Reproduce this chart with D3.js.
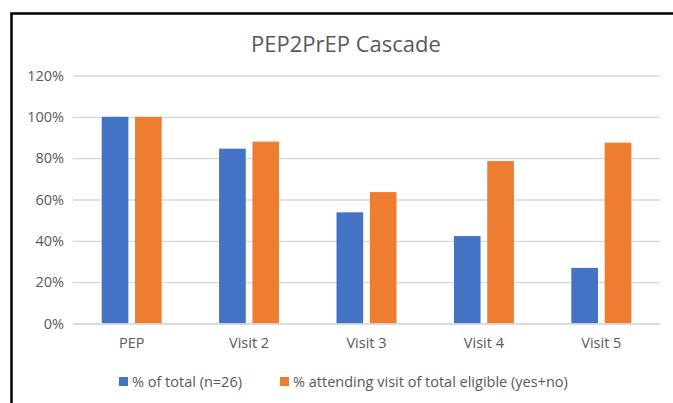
<!DOCTYPE html>
<html>
<head>
<meta charset="utf-8">
<script src="https://cdn.jsdelivr.net/npm/d3@7"></script>
<style>
  body { margin: 0; background: #fff; }
  text { font-family: "Open Sans", "Liberation Sans", sans-serif; fill: #595959; }
</style>
</head>
<body>
<div id="viz"></div>
<script>
// PEP2PrEP cascade values (fractions)

const categories = ["PEP", "Visit 2", "Visit 3", "Visit 4", "Visit 5"];
const seriesNames = ["% of total (n=26)", "% attending visit of total eligible (yes+no)"];
const pctOfTotal = [1.0, 0.846, 0.538, 0.423, 0.269];
const pctAttending = [1.0, 0.88, 0.636, 0.786, 0.875];
const yTicks = [0, 0.2, 0.4, 0.6, 0.8, 1.0, 1.2];
const colors = ["#4472C4", "#ED7D31"];

function drawChart() {
    var dimensions = {
        width: 673,
        height: 403,
        margins: { top: 75.5, right: 13, bottom: 79.5, left: 73 }
    };
    dimensions.boundedWidth = dimensions.width - dimensions.margins.left - dimensions.margins.right;
    dimensions.boundedHeight = dimensions.height - dimensions.margins.top - dimensions.margins.bottom;

    const viz = d3.select('#viz').append('svg')
        .attr('width', dimensions.width)
        .attr('height', dimensions.height);

    // chart frame (cropped on the right and bottom)
    viz.append('rect')
        .attr('x', 11.5).attr('y', 13.5)
        .attr('width', 700).attr('height', 450)
        .attr('fill', 'none')
        .attr('stroke', '#000')
        .attr('stroke-width', 2.5);

    viz.append('text')
        .attr('x', 346).attr('y', 52)
        .attr('text-anchor', 'middle')
        .style('font-size', '22px')
        .text('PEP2PrEP Cascade');

    const bounds = viz.append('g')
        .attr('transform', `translate(${dimensions.margins.left}, ${dimensions.margins.top})`);

    const y = d3.scaleLinear()
        .domain([0, 1.2])
        .range([dimensions.boundedHeight, 0]);

    const x = d3.scaleBand()
        .domain(categories)
        .range([0, dimensions.boundedWidth]);

    const x1 = d3.scaleBand()
        .domain([0, 1])
        .range([x.bandwidth() / 2 - 30, x.bandwidth() / 2 + 30])
        .paddingInner(0.2);

    // gridlines + y labels
    const yAxis = d3.axisLeft(y)
        .tickValues(yTicks)
        .tickFormat(d3.format('.0%'))
        .tickSize(-dimensions.boundedWidth)
        .tickPadding(9);

    const yg = bounds.append('g').call(yAxis);
    yg.select('.domain').remove();
    yg.selectAll('line').attr('stroke', '#d9d9d9').attr('stroke-width', 1.3);
    yg.selectAll('text').style('font-size', '14.5px').attr('fill', '#595959');

    const rows = categories.map((c, i) => ({ cat: c, vals: [pctOfTotal[i], pctAttending[i]] }));

    const groups = bounds.append('g')
        .selectAll('g')
        .data(rows)
        .enter().append('g')
            .attr('transform', d => `translate(${x(d.cat)}, 0)`);

    groups.selectAll('rect')
        .data(d => d.vals)
        .enter().append('rect')
            .attr('x', (d, i) => x1(i))
            .attr('width', x1.bandwidth())
            .attr('y', d => y(d))
            .attr('height', d => y(0) - y(d))
            .attr('fill', (d, i) => colors[i]);

    // x axis
    const xAxis = d3.axisBottom(x).tickSize(0).tickPadding(14);
    const xg = bounds.append('g')
        .attr('transform', `translate(0, ${dimensions.boundedHeight})`)
        .call(xAxis);
    xg.select('.domain').attr('stroke', '#d9d9d9').attr('stroke-width', 1.3);
    xg.selectAll('text').style('font-size', '14.5px').attr('fill', '#595959');

    // legend
    const legendX = [119, 280];
    const legend = viz.append('g')
        .selectAll('g')
        .data(seriesNames)
        .enter().append('g')
            .attr('transform', (d, i) => `translate(${legendX[i]}, 377)`);

    legend.append('rect')
        .attr('width', 9).attr('height', 9)
        .attr('fill', (d, i) => colors[i]);

    legend.append('text')
        .attr('x', 13).attr('y', 9.5)
        .style('font-size', '14.5px')
        .text(d => d);
}

drawChart();
</script>
</body>
</html>
